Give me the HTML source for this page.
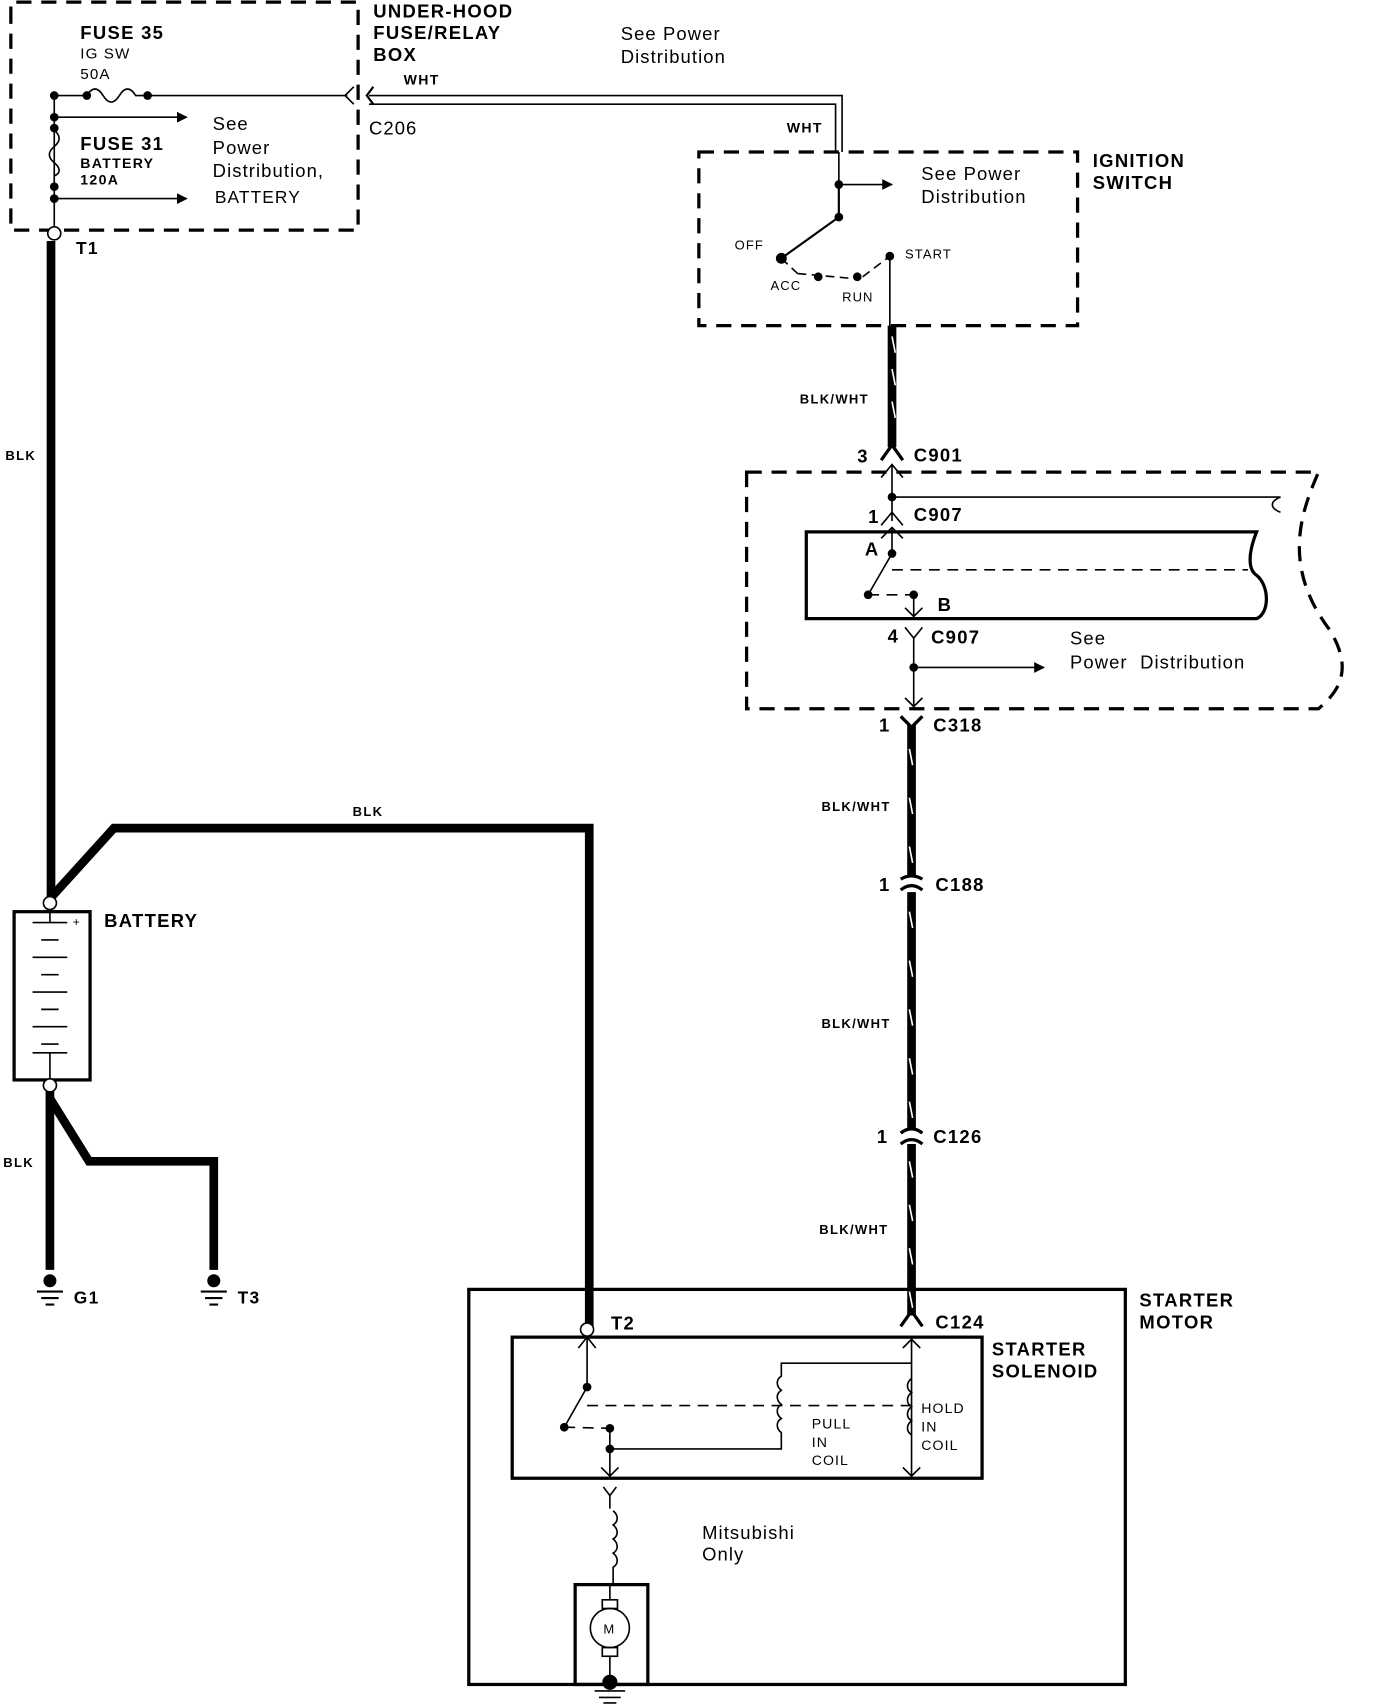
<!DOCTYPE html>
<html><head><meta charset="utf-8"><style>
html,body{margin:0;padding:0;background:#fff;}
svg{display:block;}
text{font-family:"Liberation Sans",sans-serif;fill:#000;letter-spacing:1px;}
.b{font-weight:bold;letter-spacing:1.2px;}
</style></head><body>
<svg width="1376" height="1704" viewBox="0 0 1268 1570" preserveAspectRatio="none" xmlns="http://www.w3.org/2000/svg">
<defs>
<marker id="ar" markerWidth="10" markerHeight="10" refX="9" refY="5" orient="auto" markerUnits="userSpaceOnUse"><path d="M0,0 L10,5 L0,10 Z" fill="#000"/></marker>
</defs>
<g fill="none" stroke="#000">
<path d="M10,20 V2 H330 V212 H10 V20" stroke-width="3" stroke-dasharray="14,9"/>
<path d="M50,210 V88 H80 M80,88 c5,-8 10,-8 15,0 s10,8 15,0 s10,-8 15,0 H320" stroke-width="1.5"/>
<path d="M326,80 L318,88 L326,96" stroke-width="1.5"/>
<path d="M50,108 H172" stroke-width="1.5" marker-end="url(#ar)"/>
<path d="M50,183 H172" stroke-width="1.5" marker-end="url(#ar)"/>
<path d="M50,120 c6,5 6,10 0,15 s-6,10 0,15 s6,10 0,12" stroke-width="1.5"/>
<path d="M47,222 V830" stroke-width="8"/>
<path d="M46,828 L105,763 H543 V1222" stroke-width="8"/>
<rect x="13" y="840" width="70" height="155" stroke-width="3"/>
<path d="M46,836 V850 M30,850 H62 M38,866 H54 M30,882 H62 M38,898 H54 M30,914 H62 M38,930 H54 M30,946 H62 M38,962 H54 M46,970 V998 M30,970 H62" stroke-width="1.5"/>
<path d="M46,1005 V1170" stroke-width="8"/>
<path d="M46,1012 L82,1070 H197 V1170" stroke-width="8"/>
<path d="M34,1190 H58 M38,1196 H54 M42,1202 H50 M185,1190 H209 M189,1196 H205 M193,1202 H201" stroke-width="2"/>
<path d="M340,88 H776 V140 M340,96 H770 V140" stroke-width="1.5"/>
<path d="M344,80 L338,88 L344,96" stroke-width="2"/>
<path d="M644,140 H993 V300 H644 Z" stroke-width="3" stroke-dasharray="14,9"/>
<path d="M773,140 V170 H822" stroke-width="1.5" marker-end="url(#ar)"/>
<path d="M773,170 V200 L720,238" stroke-width="2"/>
<path d="M720,238 L735,252 M735,252 L790,257 M795,255 L820,236" stroke-width="1.5" stroke-dasharray="8,5"/>
<path d="M820,236 V300" stroke-width="1.5"/>
<path d="M822,300 V412" stroke-width="8"/>
<path d="M822,310 l3,15 M822,340 l3,15 M822,370 l3,15" stroke="#fff" stroke-width="1.5"/>
<path d="M812,424 L822,410 L832,424" stroke-width="3"/>
<path d="M688,435 H1215 C1200,470 1180,520 1225,580 C1250,620 1230,640 1215,653 H688 Z" stroke-width="3" stroke-dasharray="14,9"/>
<path d="M812,440 L822,428 L832,440 M822,428 V480" stroke-width="1.5"/>
<path d="M822,458 H1180 c-10,4 -10,10 0,14" stroke-width="1.5"/>
<path d="M812,484 L822,472 L832,484 M812,496 L822,486 L832,496 M822,486 V510" stroke-width="1.5"/>
<path d="M743,490 H1158 C1150,510 1150,525 1158,530 C1170,540 1170,565 1158,570 H743 Z" stroke-width="3"/>
<path d="M822,510 L800,548" stroke-width="1.5"/>
<path d="M822,525 H1150 M800,548 L842,548" stroke-width="1.5" stroke-dasharray="10,7"/>
<path d="M842,548 V568 M834,560 L842,568 L850,560" stroke-width="1.5"/>
<path d="M834,578 L842,588 L850,578 M842,588 V650 M834,643 L842,651 L850,643" stroke-width="1.5"/>
<path d="M842,615 H962" stroke-width="1.5" marker-end="url(#ar)"/>
<path d="M830,660 L840,670 L850,660" stroke-width="3"/>
<path d="M840,668 V808 M840,822 V1040 M840,1054 V1212" stroke-width="8"/>
<path d="M830,810 Q840,804 850,810 M830,820 Q840,812 850,820" stroke-width="3"/>
<path d="M830,1044 Q840,1036 850,1044 M830,1054 Q840,1046 850,1054" stroke-width="3"/>
<path d="M838,690 l3,15 M838,735 l3,15 M838,780 l3,15 M838,840 l3,15 M838,885 l3,15 M838,930 l3,15 M838,975 l3,15 M838,1015 l3,15 M838,1070 l3,15 M838,1110 l3,15 M838,1150 l3,15 M838,1190 l3,15" stroke="#fff" stroke-width="1.5"/>
<path d="M830,1222 L840,1208 L850,1222" stroke-width="3"/>
<rect x="432" y="1188" width="605" height="364" stroke-width="3"/>
<rect x="472" y="1232" width="433" height="130" stroke-width="3"/>
<path d="M541,1232 V1278 L520,1315 M533,1242 L541,1232 L549,1242" stroke-width="1.5"/>
<path d="M541,1295 H840 M520,1315 L562,1316" stroke-width="1.5" stroke-dasharray="10,7"/>
<path d="M562,1316 V1362 M562,1335 H720 V1320 c-5,-4 -5,-10 0,-13 c-5,-4 -5,-10 0,-13 c-5,-4 -5,-10 0,-13 c-5,-4 -5,-10 0,-13 V1256 H840" stroke-width="1.5"/>
<path d="M840,1232 V1360 M832,1242 L840,1234 L848,1242 M832,1352 L840,1360 L848,1352" stroke-width="1.5"/>
<path d="M840,1270 c-5,4 -5,10 0,13 c-5,4 -5,10 0,13 c-5,4 -5,10 0,13 c-5,4 -5,10 0,13" stroke-width="1.5"/>
<path d="M554,1352 L562,1360 L570,1352 M556,1370 L562,1378 L568,1370 M562,1378 V1390" stroke-width="1.5"/>
<path d="M565,1392 c5,4 5,10 0,13 c5,4 5,10 0,13 c5,4 5,10 0,13 c5,4 5,10 0,13 V1460" stroke-width="1.5"/>
<rect x="530" y="1460" width="67" height="92" stroke-width="3"/>
<circle cx="562" cy="1500" r="18" stroke-width="1.5"/>
<rect x="555" y="1474" width="14" height="8" stroke-width="1.5"/>
<rect x="555" y="1518" width="14" height="8" stroke-width="1.5"/>
<path d="M562,1460 V1474 M562,1526 V1552 M548,1558 H576 M552,1564 H572 M556,1569 H568" stroke-width="1.5"/>
</g>
<g fill="#000">
<circle cx="50" cy="88" r="4"/><circle cx="80" cy="88" r="4"/><circle cx="136" cy="88" r="4"/>
<circle cx="50" cy="108" r="4"/><circle cx="50" cy="118" r="4"/><circle cx="50" cy="172" r="4"/><circle cx="50" cy="183" r="4"/>
<circle cx="773" cy="170" r="4"/><circle cx="773" cy="200" r="4"/><circle cx="720" cy="238" r="5"/><circle cx="754" cy="255" r="4"/><circle cx="790" cy="255" r="4"/><circle cx="820" cy="236" r="4"/>
<circle cx="822" cy="458" r="4"/><circle cx="822" cy="510" r="4"/><circle cx="800" cy="548" r="4"/><circle cx="842" cy="548" r="4"/><circle cx="842" cy="615" r="4"/>
<circle cx="541" cy="1278" r="4"/><circle cx="520" cy="1315" r="4"/><circle cx="562" cy="1316" r="4"/><circle cx="562" cy="1335" r="4"/>
<circle cx="562" cy="1550" r="7"/><circle cx="46" cy="1180" r="6"/><circle cx="197" cy="1180" r="6"/>
</g>
<g fill="#fff" stroke="#000" stroke-width="1.5">
<circle cx="50" cy="215" r="6"/><circle cx="46" cy="832" r="6"/><circle cx="46" cy="1000" r="6"/><circle cx="541" cy="1225" r="6"/>
</g>
<g font-size="17">
<text x="74" y="36" class="b">FUSE 35</text>
<text x="74" y="54" font-size="14">IG SW</text>
<text x="74" y="73" font-size="14">50A</text>
<text x="74" y="138" class="b">FUSE 31</text>
<text x="74" y="155" font-size="13" class="b">BATTERY</text>
<text x="74" y="170" font-size="13" class="b">120A</text>
<text x="196" y="120">See</text><text x="196" y="142">Power</text><text x="196" y="163">Distribution,</text>
<text x="198" y="187" font-size="16">BATTERY</text>
<text x="344" y="16" class="b">UNDER-HOOD</text><text x="344" y="36" class="b">FUSE/RELAY</text><text x="344" y="56" class="b">BOX</text>
<text x="340" y="124">C206</text>
<text x="372" y="78" font-size="13" class="b">WHT</text>
<text x="725" y="122" font-size="13" class="b">WHT</text>
<text x="572" y="37">See Power</text><text x="572" y="58">Distribution</text>
<text x="70" y="234" class="b" font-size="16">T1</text>
<text x="5" y="424" font-size="12" class="b">BLK</text>
<text x="325" y="752" font-size="12" class="b">BLK</text>
<text x="96" y="854" class="b">BATTERY</text>
<text x="3" y="1075" font-size="12" class="b">BLK</text>
<text x="68" y="1201" class="b" font-size="16">G1</text>
<text x="219" y="1201" class="b" font-size="16">T3</text>
<text x="1007" y="154" class="b">IGNITION</text><text x="1007" y="174" class="b">SWITCH</text>
<text x="849" y="166">See Power</text><text x="849" y="187">Distribution</text>
<text x="677" y="230" font-size="12">OFF</text>
<text x="710" y="267" font-size="12">ACC</text>
<text x="834" y="238" font-size="12">START</text>
<text x="776" y="278" font-size="12">RUN</text>
<text x="737" y="372" font-size="12" class="b">BLK/WHT</text>
<text x="790" y="426" class="b">3</text><text x="842" y="425" class="b">C901</text>
<text x="800" y="482" class="b">1</text><text x="842" y="480" class="b">C907</text>
<text x="797" y="512" class="b">A</text><text x="864" y="563" class="b">B</text>
<text x="818" y="592" class="b">4</text><text x="858" y="593" class="b">C907</text>
<text x="986" y="594">See</text><text x="986" y="616">Power&#160; Distribution</text>
<text x="810" y="674" class="b">1</text><text x="860" y="674" class="b">C318</text>
<text x="757" y="747" font-size="12" class="b">BLK/WHT</text>
<text x="810" y="821" class="b">1</text><text x="862" y="821" class="b">C188</text>
<text x="757" y="947" font-size="12" class="b">BLK/WHT</text>
<text x="808" y="1053" class="b">1</text><text x="860" y="1053" class="b">C126</text>
<text x="755" y="1137" font-size="12" class="b">BLK/WHT</text>
<text x="1050" y="1204" class="b">STARTER</text><text x="1050" y="1224" class="b">MOTOR</text>
<text x="563" y="1225" class="b">T2</text><text x="862" y="1224" class="b">C124</text>
<text x="914" y="1249" class="b">STARTER</text><text x="914" y="1269" class="b">SOLENOID</text>
<text x="748" y="1316" font-size="13">PULL</text><text x="748" y="1333" font-size="13">IN</text><text x="748" y="1350" font-size="13">COIL</text>
<text x="849" y="1302" font-size="13">HOLD</text><text x="849" y="1319" font-size="13">IN</text><text x="849" y="1336" font-size="13">COIL</text>
<text x="647" y="1418">Mitsubishi</text><text x="647" y="1438">Only</text>
<text x="556" y="1505" font-size="12">M</text>
<text x="67" y="853" font-size="11">+</text>
</g>
</svg>
</body></html>
